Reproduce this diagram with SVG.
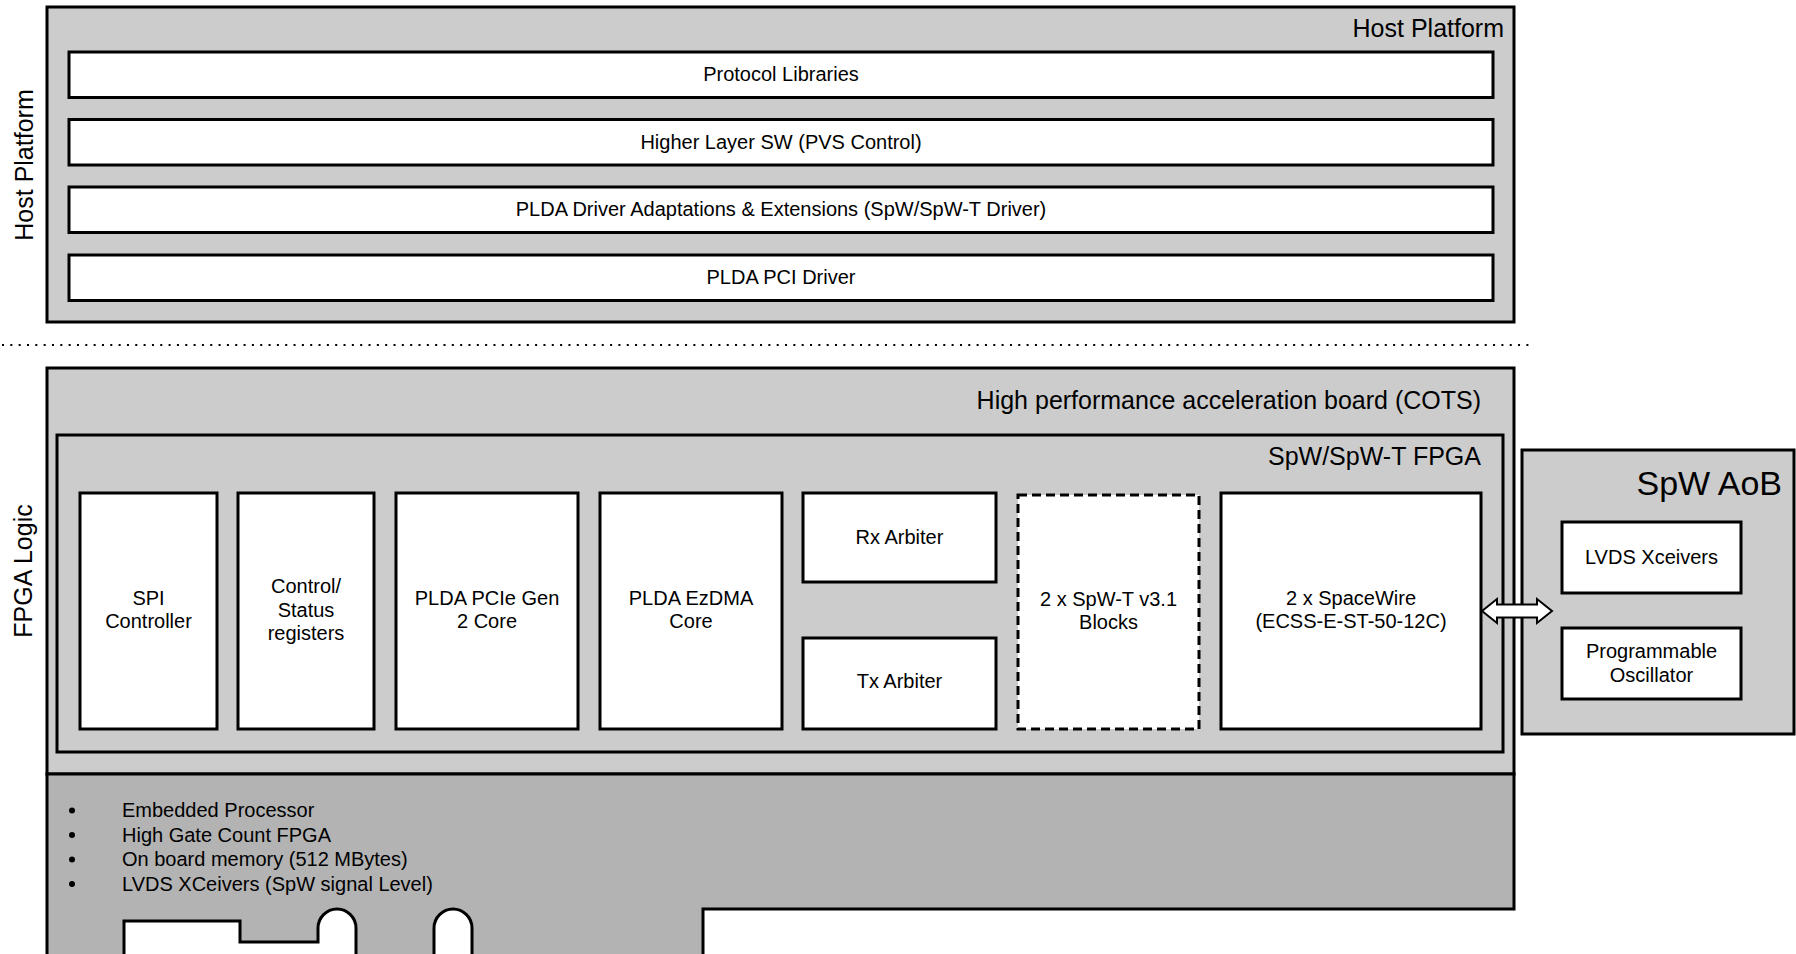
<svg xmlns="http://www.w3.org/2000/svg" width="1796" height="954" viewBox="0 0 1796 954">
<defs>
<style>
.txt{font-family:"Liberation Sans",Arial,sans-serif;fill:#000;}
.b{font-size:20px;text-anchor:middle;}
.t{font-size:25px;text-anchor:end;}
.l{font-size:20px;}
.box{fill:#fff;stroke:#000;stroke-width:3;}
.grey{fill:#cccccc;stroke:#000;stroke-width:3;}
.dark{fill:#b3b3b3;stroke:#000;stroke-width:3;}
</style>
</defs>
<rect width="1796" height="954" fill="#fff"/>

<!-- Side labels -->
<text class="txt" font-size="25" text-anchor="middle" transform="translate(33,165) rotate(-90)">Host Platform</text>
<text class="txt" font-size="25" text-anchor="middle" transform="translate(32,571) rotate(-90)">FPGA Logic</text>

<!-- Host platform -->
<g id="host-platform">
<rect class="grey" x="47" y="7" width="1467" height="315"/>
<text class="txt t" x="1504" y="37">Host Platform</text>
</g>
<g id="protocol-libraries">
<rect class="box" x="69" y="52" width="1424" height="45.5"/>
<text class="txt b" x="781" y="81">Protocol Libraries</text>
</g>
<g id="higher-layer-sw">
<rect class="box" x="69" y="119.5" width="1424" height="45.5"/>
<text class="txt b" x="781" y="148.5">Higher Layer SW (PVS Control)</text>
</g>
<g id="pLDA-driver-adaptations">
<rect class="box" x="69" y="187" width="1424" height="45.5"/>
<text class="txt b" x="781" y="216">PLDA Driver Adaptations &amp; Extensions (SpW/SpW-T Driver)</text>
</g>
<g id="plda-pci-driver">
<rect class="box" x="69" y="255" width="1424" height="45.5"/>
<text class="txt b" x="781" y="284">PLDA PCI Driver</text>
</g>

<!-- Separator -->
<line x1="2" y1="345" x2="1531" y2="345" stroke="#000" stroke-width="2" stroke-dasharray="2 6.33"/>

<!-- Acceleration board -->
<g id="acceleration-board">
<rect class="grey" x="47" y="368" width="1467" height="406"/>
<path class="dark" d="M47,774 H1514 V909 H703 V960 H472 V928 A19,19 0 0 0 434,928 V960 H356 V928 A19,19 0 0 0 318,928 V942 H240 V921 H124 V960 H47 Z"/>
<text class="txt t" x="1481" y="409">High performance acceleration board (COTS)</text>
<circle cx="72" cy="810.5" r="3"/>
<circle cx="72" cy="835" r="3"/>
<circle cx="72" cy="859.5" r="3"/>
<circle cx="72" cy="884" r="3"/>
<text class="txt l" x="122" y="817">Embedded Processor</text>
<text class="txt l" x="122" y="841.5">High Gate Count FPGA</text>
<text class="txt l" x="122" y="866">On board memory (512 MBytes)</text>
<text class="txt l" x="122" y="890.5">LVDS XCeivers (SpW signal Level)</text>
</g>

<g id="fpga">
<rect class="grey" x="57" y="435" width="1446" height="317"/>
<text class="txt t" x="1481" y="465">SpW/SpW-T FPGA</text>
</g>

<g id="spi-controller">
<rect class="box" x="80" y="493" width="137" height="236"/>
<text class="txt b" x="148.5" y="605">SPI</text>
<text class="txt b" x="148.5" y="628">Controller</text>
</g>
<g id="control-status">
<rect class="box" x="238" y="493" width="136" height="236"/>
<text class="txt b" x="306" y="593">Control/</text>
<text class="txt b" x="306" y="616.5">Status</text>
<text class="txt b" x="306" y="640">registers</text>
</g>
<g id="pcie-core">
<rect class="box" x="396" y="493" width="182" height="236"/>
<text class="txt b" x="487" y="605">PLDA PCIe Gen</text>
<text class="txt b" x="487" y="628">2 Core</text>
</g>
<g id="ezdma-core">
<rect class="box" x="600" y="493" width="182" height="236"/>
<text class="txt b" x="691" y="605">PLDA EzDMA</text>
<text class="txt b" x="691" y="628">Core</text>
</g>
<g id="rx-arbiter">
<rect class="box" x="803" y="493" width="193" height="89"/>
<text class="txt b" x="899.5" y="544">Rx Arbiter</text>
</g>
<g id="tx-arbiter">
<rect class="box" x="803" y="638" width="193" height="91"/>
<text class="txt b" x="899.5" y="688">Tx Arbiter</text>
</g>
<g id="spw-t-blocks">
<rect class="box" x="1018" y="495" width="181" height="234" stroke-dasharray="9 5"/>
<text class="txt b" x="1108.5" y="606">2 x SpW-T v3.1</text>
<text class="txt b" x="1108.5" y="629">Blocks</text>
</g>
<g id="spacewire">
<rect class="box" x="1221" y="493" width="260" height="236"/>
<text class="txt b" x="1351" y="605">2 x SpaceWire</text>
<text class="txt b" x="1351" y="628">(ECSS-E-ST-50-12C)</text>
</g>

<!-- SpW AoB -->
<g id="spw-aob">
<rect class="grey" x="1522" y="450" width="272" height="284"/>
<text class="txt" font-size="34" text-anchor="end" x="1782" y="495">SpW AoB</text>
</g>
<g id="lvds-xceivers">
<rect class="box" x="1562" y="522" width="179" height="71"/>
<text class="txt b" x="1651.5" y="564">LVDS Xceivers</text>
</g>
<g id="programmable-oscillator">
<rect class="box" x="1562" y="628" width="179" height="71"/>
<text class="txt b" x="1651.5" y="658">Programmable</text>
<text class="txt b" x="1651.5" y="682">Oscillator</text>
</g>

<!-- Connectors -->
<g id="connectors">
<polygon points="1482,611 1497,599 1497,604.5 1537,604.5 1537,599 1552,611 1537,623 1537,617.5 1497,617.5 1497,623" fill="#fff" stroke="#000" stroke-width="2" stroke-linejoin="miter"/>
</g>
</svg>
